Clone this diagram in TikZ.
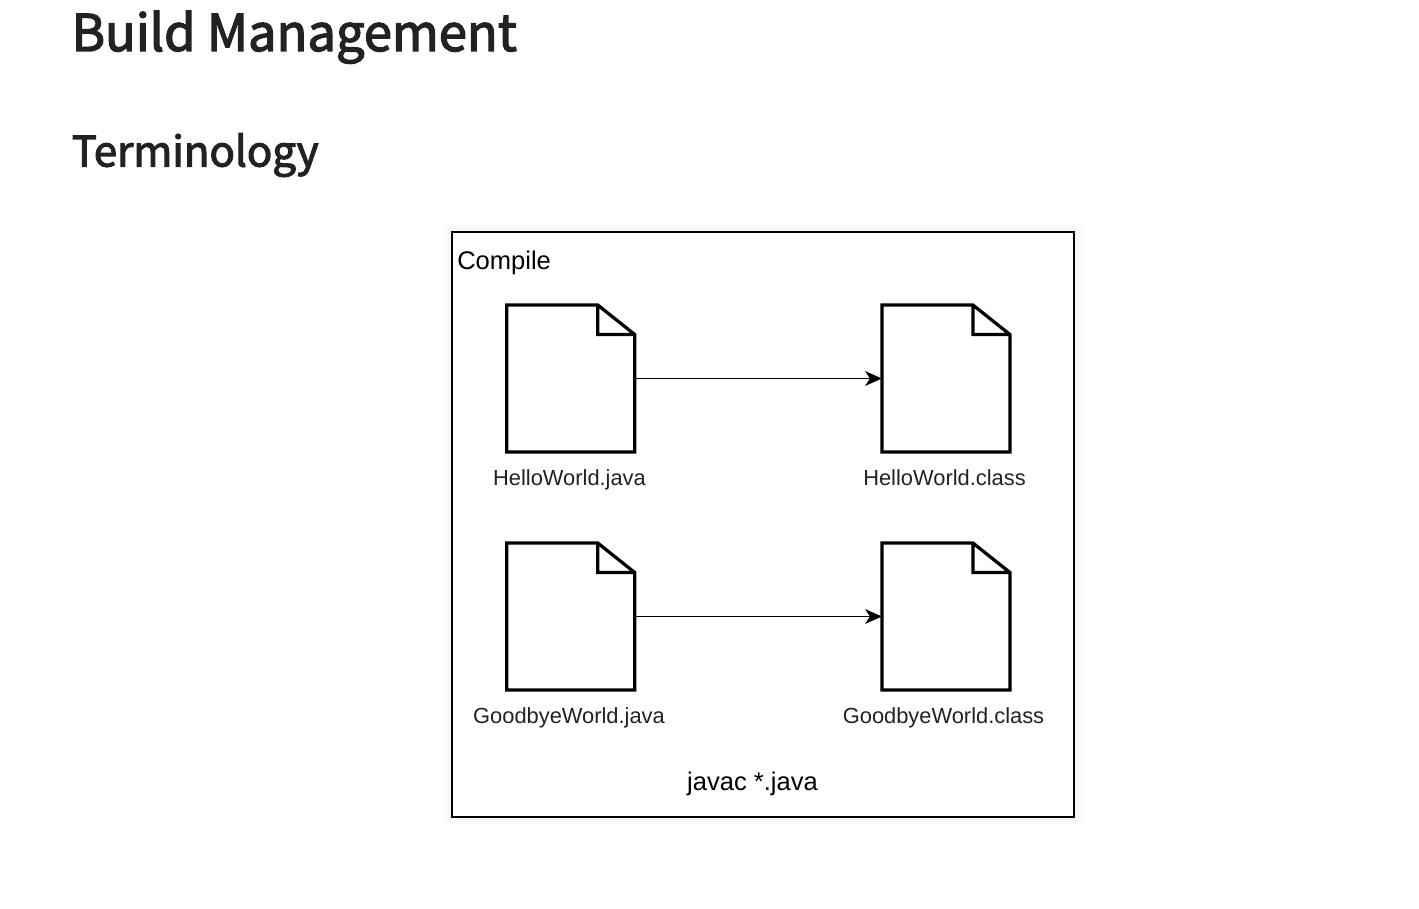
\documentclass[tikz,border=0pt]{standalone}
\usepackage{fontspec}
\usetikzlibrary{arrows.meta,positioning,calc}
\setmainfont{Liberation Sans}
\newfontfamily\headfont[FakeBold=2.6]{Noto Sans CJK KR}
\definecolor{ink}{HTML}{222222}

\begin{document}
\begin{tikzpicture}[
  x=0.75pt,y=-0.75pt,
  node distance=68.25pt and 185.4pt,
  doc/.style={rectangle,fill=white,inner sep=0pt,outer sep=0pt,
              minimum width=96pt,minimum height=110.25pt},
  docline/.style={line width=2.45pt,line join=miter},
  lbl/.style={text=ink,font=\fontsize{16.4pt}{19pt}\selectfont,inner sep=0pt},
  big/.style={text=black,font=\fontsize{19.15pt}{23pt}\selectfont,inner sep=0pt},
  arr/.style={-{Stealth[length=12.5pt,width=11pt,inset=3.5pt]},line width=1.4pt}
]
  \useasboundingbox (0,0) rectangle (1419,909);
  \node[anchor=base west,inner sep=0pt,text=ink,font=\headfont\fontsize{38pt}{44pt}\selectfont] (title) at (71.5,51) {Build Management};
  \node[anchor=base west,inner sep=0pt,text=ink,font=\headfont\fontsize{31.5pt}{36pt}\selectfont] (sub) at (71.5,166.5) {Terminology};

  % soft edge round the frame
  \foreach \s in {1,2,...,10}
    \fill[black,opacity=0.005] (452-\s,232-\s) rectangle (1074+\s,817+\s);
  \draw[line width=0.95pt,fill=white] (452,232) rectangle (1074,817);
  \node[big,anchor=base west] (compile) at (457,269) {Compile};

  \node[doc] (hj) at (570.7,378.5) {};
  \node[doc,right=of hj] (hc) {};
  \node[doc,below=of hj] (gj) {};
  \node[doc,right=of gj] (gc) {};

  \foreach \n in {hj,hc,gj,gc}
    \draw[docline] ($(\n.north east)+(-37,0)$) -- (\n.north west) -- (\n.south west)
      -- (\n.south east) -- ($(\n.north east)+(0,29.5)$) -- cycle
      ($(\n.north east)+(-37,0)$) -- ($(\n.north east)+(-37,29.5)$) -- ($(\n.north east)+(0,29.5)$);

  \node[lbl,anchor=base] (hjt) at (569.5,485) {HelloWorld.java};
  \node[lbl,anchor=base] (hct) at (944.5,485) {HelloWorld.class};
  \node[lbl,anchor=base] (gjt) at (569,723) {GoodbyeWorld.java};
  \node[lbl,anchor=base] (gct) at (943.5,723) {GoodbyeWorld.class};
  \node[big,anchor=base] (cmd) at (752.5,790.5) {javac *.java};

  \draw[arr] (hj) -- (hc);
  \draw[arr] (gj) -- (gc);
\end{tikzpicture}
\end{document}
